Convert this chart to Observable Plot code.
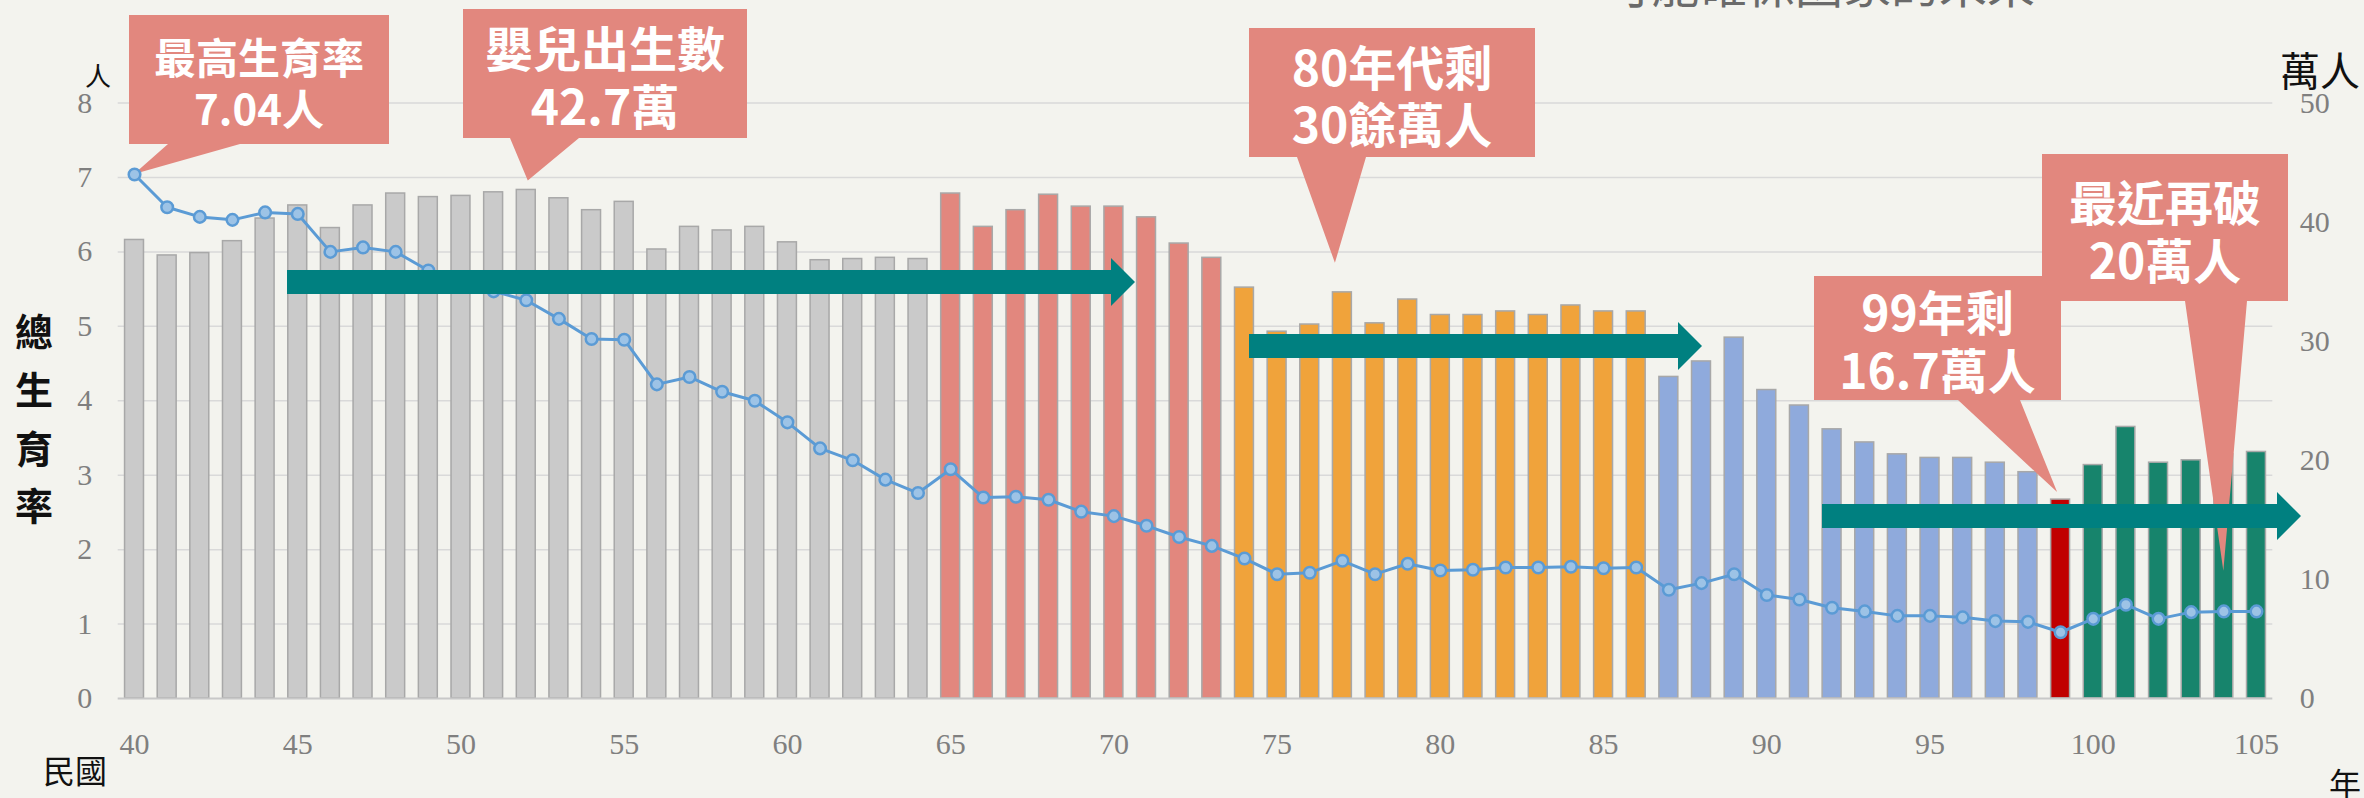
<!DOCTYPE html>
<html><head><meta charset="utf-8">
<script src="https://cdn.jsdelivr.net/npm/d3@7"></script>
<script src="https://cdn.jsdelivr.net/npm/@observablehq/plot@0.6"></script>
<style>
html,body{margin:0;padding:0;background:#F3F3EE;}
#chart{width:2364px;height:798px;overflow:hidden;}
</style></head><body><div id="chart"></div>
<script>
// 民國年
const years = [40,41,42,43,44,45,46,47,48,49,50,51,52,53,54,55,56,57,58,59,60,61,62,63,64,65,66,67,68,69,70,71,72,73,74,75,76,77,78,79,80,81,82,83,84,85,86,87,88,89,90,91,92,93,94,95,96,97,98,99,100,101,102,103,104,105];
// 嬰兒出生數（萬人）
const births = [38.5,37.2,37.4,38.4,40.3,41.4,39.5,41.4,42.4,42.1,42.2,42.5,42.7,42.0,41.0,41.7,37.7,39.6,39.3,39.6,38.3,36.8,36.9,37.0,36.9,42.4,39.6,41.0,42.3,41.3,41.3,40.4,38.2,37.0,34.5,30.8,31.4,34.1,31.5,33.5,32.2,32.2,32.5,32.2,33.0,32.5,32.5,27.0,28.3,30.3,25.9,24.6,22.6,21.5,20.5,20.2,20.2,19.8,19.0,16.7,19.6,22.8,19.8,20.0,20.5,20.7];
// 總生育率（人）
const tfr = [7.04,6.60,6.47,6.43,6.53,6.51,6.00,6.06,6.00,5.75,5.59,5.47,5.35,5.10,4.83,4.82,4.22,4.32,4.12,4.00,3.71,3.36,3.20,2.94,2.76,3.08,2.70,2.71,2.67,2.51,2.45,2.32,2.17,2.05,1.88,1.67,1.69,1.85,1.67,1.81,1.72,1.73,1.76,1.76,1.77,1.75,1.76,1.46,1.55,1.67,1.39,1.33,1.22,1.17,1.11,1.11,1.09,1.04,1.03,0.89,1.07,1.26,1.07,1.16,1.17,1.17];
// 時期分段（起始年）
const eraStarts = [40, 65, 74, 87, 99, 100];
const eraColors = ["#CACACA", "#E2877E", "#F0A33B", "#8FAADC", "#C00000", "#17846C"];
const leftTicks = [0,1,2,3,4,5,6,7,8];
const rightTicks = [0,10,20,30,40,50];
const xTicks = [40,45,50,55,60,65,70,75,80,85,90,95,100,105];

const callouts = [
  {lines:["最高生育率","7.04人"], box:[129,15,389,144], base:[168,240], size:42, ty:[55,106], tip:{year:40, key:"tfr", dy:0}},
  {lines:["嬰兒出生數","42.7萬"], box:[463,9,747,138], base:[510,579], size:48, ty:[46,104], tip:{year:52, key:"births", dx:2, dy:-9}},
  {lines:["80年代剩","30餘萬人"], box:[1249,28,1535,157], base:[1297,1366], size:48, ty:[65,122], tip:{year:77, key:"births", dx:-7, dy:-29}},
  {lines:["最近再破","20萬人"], box:[2042,154,2288,301], base:[2185,2247], size:48, ty:[200,258], tip:{year:104, key:"births", dy:117}},
  {lines:["99年剩","16.7萬人"], box:[1814,276,2061,400], base:[1958,2020], size:48, ty:[310,368], tip:{year:99, key:"births", dx:-3, dy:-7}}
];
const arrows = [
  {x0:287, x1:1135, cy:282},
  {x0:1249, x1:1702, cy:346},
  {x0:1822, x1:2301, cy:516}
];

const RATIO = 50 / 8;
const LINE_COLOR = "#5B9BD5";
const data = years.map((year, i) => ({year, births: births[i], tfr: tfr[i], era: d3.bisectRight(eraStarts, year) - 1}));

const W = 2364, H = 798;
const plot = Plot.plot({
  width: W, height: H,
  marginLeft: 117.7, marginRight: 91.7, marginTop: 102.5, marginBottom: 100,
  style: {background: "#F3F3EE", fontFamily: "'Liberation Serif', serif", fontSize: "30px", color: "#7f7f7f", overflow: "visible"},
  x: {type: "linear", domain: [39.5, 105.5]},
  y: {domain: [0, 50]},
  marks: [
    Plot.ruleY(leftTicks.slice(1), {y: d => d * RATIO, stroke: "#D9D9D9", strokeWidth: 1.5}),
    Plot.rect(data, {x1: d => d.year - 0.29, x2: d => d.year + 0.29, y1: 0, y2: "births", fill: d => eraColors[d.era], stroke: "#A8A8A8", strokeWidth: 1.5}),
    Plot.ruleY([0], {stroke: "#C8C8C8", strokeWidth: 2}),
    Plot.line(data, {x: "year", y: d => d.tfr * RATIO, stroke: LINE_COLOR, strokeWidth: 3}),
    Plot.dot(data, {x: "year", y: d => d.tfr * RATIO, r: 5.8, fill: "#9DC3E6", stroke: LINE_COLOR, strokeWidth: 2.5}),
    Plot.axisY({anchor: "left", ticks: leftTicks.map(d => d * RATIO), tickFormat: d => String(Math.round(d / RATIO)), tickSize: 0, tickPadding: 26, label: null}),
    Plot.axisY({anchor: "right", ticks: rightTicks, tickSize: 0, tickPadding: 27, label: null}),
    Plot.axisX({ticks: xTicks, tickSize: 0, tickPadding: 34, label: null})
  ]
});
document.getElementById("chart").appendChild(plot);

const svg = d3.select(plot);
const xs = plot.scale("x"), ys = plot.scale("y");
const X = v => xs.apply(v), Y = v => ys.apply(v);
const CJK = "'Noto Sans CJK TC', 'Noto Sans CJK SC', sans-serif";

// callouts go beneath the fertility line
const groups = Array.from(plot.children).filter(n => n.tagName.toLowerCase() === "g");
const lineGroup = groups.find(g => (g.getAttribute("stroke") || "").toLowerCase() === LINE_COLOR.toLowerCase() && g.getAttribute("fill") === "none") || null;
const cgNode = document.createElementNS("http://www.w3.org/2000/svg", "g");
plot.insertBefore(cgNode, lineGroup);
const cg = d3.select(cgNode);
for (const c of callouts) {
  const d = data.find(e => e.year === c.tip.year);
  const tv = c.tip.key === "tfr" ? d.tfr * RATIO : d.births;
  const tx = X(c.tip.year) + (c.tip.dx || 0), ty = Y(tv) + (c.tip.dy || 0);
  const [l, t, r, b] = c.box;
  cg.append("path")
    .attr("d", `M${l},${t}H${r}V${b}H${c.base[1]}L${tx},${ty}L${c.base[0]},${b}H${l}Z`)
    .attr("fill", "#E2877E");
}
const tg = svg.append("g");
// arrows
for (const a of arrows) {
  const h = 24;
  tg.append("path")
    .attr("d", `M${a.x0},${a.cy-12}H${a.x1-h}V${a.cy-24}L${a.x1},${a.cy}L${a.x1-h},${a.cy+24}V${a.cy+12}H${a.x0}Z`)
    .attr("fill", "#008080");
}
for (const c of callouts) {
  const cx = (c.box[0] + c.box[2]) / 2;
  c.lines.forEach((s, i) => {
    tg.append("text").attr("x", cx).attr("y", c.ty[i])
      .attr("text-anchor", "middle").attr("dominant-baseline", "central")
      .attr("font-family", CJK).attr("font-weight", 700).attr("font-size", c.size)
      .attr("fill", "#ffffff").text(s);
  });
}
// axis titles
function label(s, x, y, size, weight, fill, anchor) {
  tg.append("text").attr("x", x).attr("y", y)
    .attr("text-anchor", anchor || "middle").attr("dominant-baseline", "central")
    .attr("font-family", CJK).attr("font-weight", weight).attr("font-size", size)
    .attr("fill", fill).text(s);
}
label("人", 98, 74, 26, 400, "#111");
label("萬人", 2320, 69, 40, 400, "#111");
["總","生","育","率"].forEach((s, i) => label(s, 34, [329,387,446,503][i], 38, 700, "#111"));
label("民國", 75, 769, 32, 400, "#111");
label("年", 2345, 782, 32, 400, "#111");
tg.append("text").attr("x", 1819).attr("y", 3)
  .attr("font-family", CJK).attr("font-size", 48).attr("fill", "#6a6a6a").text("可能確保國家的未來");
</script></body></html>
